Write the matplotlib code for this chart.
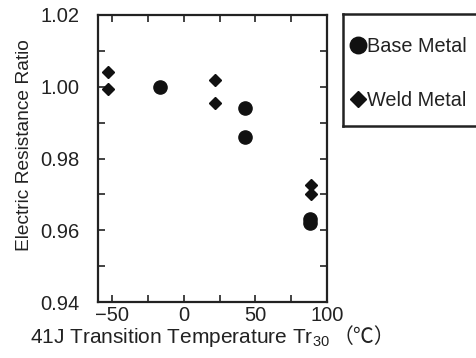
import matplotlib.pyplot as plt
from matplotlib.ticker import MultipleLocator

plt.rcParams['font.family'] = ['Liberation Sans', 'Noto Sans CJK JP']
plt.rcParams['mathtext.fontset'] = 'custom'
plt.rcParams['mathtext.rm'] = 'Liberation Sans'

# base metal
base_temp = [-17, 43, 43, 88, 88]
base_ratio = [1.000, 0.994, 0.986, 0.963, 0.962]
# weld metal
weld_temp = [-53, -53, 22, 22, 89, 89]
weld_ratio = [1.004, 0.9995, 1.002, 0.9955, 0.9725, 0.970]

fig = plt.figure(figsize=(4.76, 3.58), dpi=100)
W, H = 476, 358
ax = fig.add_axes([98 / W, 1 - 302 / H, (327 - 98) / W, (302 - 15) / H])

ax.plot(base_temp, base_ratio, 'o', color='#111111', ms=9.5, label='Base Metal')
ax.plot(weld_temp, weld_ratio, 'D', color='#111111', ms=6.5, label='Weld Metal')

ax.set_xlim(-60, 100)
ax.set_ylim(0.94, 1.02)
ax.set_xticks([-50, 0, 50, 100])
ax.set_xticklabels(['\u221250', '0', '50', '100'])
ax.xaxis.set_minor_locator(MultipleLocator(25))
ax.set_yticks([0.94, 0.96, 0.98, 1.00, 1.02])
ax.set_yticklabels(['0.94', '0.96', '0.98', '1.00', '1.02'])
ax.yaxis.set_minor_locator(MultipleLocator(0.01))
ax.tick_params(which='both', direction='in', top=True, right=True, labelsize=14.5,
               width=1.2, color='#222222', labelcolor='#222222')
ax.tick_params(which='major', length=5, pad=3)
ax.tick_params(axis='y', which='major', pad=13)
ax.tick_params(which='minor', length=5)
for s in ax.spines.values():
    s.set_linewidth(1.6)
    s.set_color('#222222')

fig.text(25 / W, 1 - 145 / H, 'Electric Resistance Ratio', fontsize=13.8,
         color='#222222', rotation=90, ha='center', va='center')
fig.text(30 / W, 1 - 343 / H, '41J Transition Temperature Tr$_{30}$', fontsize=15,
         color='#222222', va='baseline', ha='left')
fig.text(333 / W, 1 - 343 / H, '\uff08\u2103\uff09', fontsize=15,
         color='#222222', va='baseline', ha='left', family='Noto Sans CJK JP')

# legend panel, cut off by the right edge of the figure
lax = fig.add_axes([343 / W, 1 - 126 / H, 150 / W, (126 - 14) / H])
lax.set_xticks([])
lax.set_yticks([])
for s in lax.spines.values():
    s.set_linewidth(1.8)
    s.set_color('#222222')
handles, labels = ax.get_legend_handles_labels()
lax.legend(handles, labels, loc='center left', bbox_to_anchor=(0.0, 0.47),
           frameon=False, fontsize=14.3, handlelength=0.75, handletextpad=0.05,
           labelspacing=1.75, markerscale=1.25, borderaxespad=0.1, borderpad=0.3,
           labelcolor='#222222')

fig.savefig('out.png', dpi=100)
